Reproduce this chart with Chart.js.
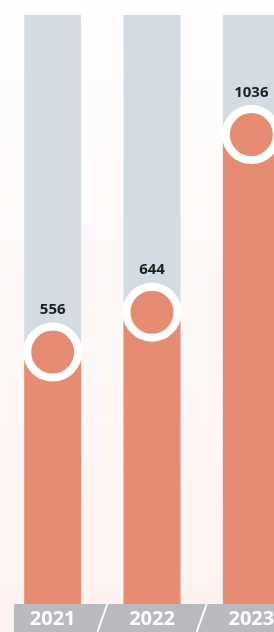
<!DOCTYPE html>
<html>
<head>
<meta charset="utf-8">
<script src="https://cdn.jsdelivr.net/npm/chart.js@4/dist/chart.umd.min.js"></script>
<style>
  html, body {
    margin: 0;
    padding: 0;
    width: 274px;
    height: 632px;
    overflow: hidden;
    background: linear-gradient(to bottom, #fefdfd 0%, #fdf7f5 60%, #fdf2ef 100%);
  }
  canvas { display: block; }
</style>
</head>
<body>
<canvas id="chart" width="301" height="632"></canvas>
<script>
// datos
const years = ["2021", "2022", "2023"];
const values = [556, 644, 1036];
const trackValues = [1300, 1300, 1300];

const ORANGE = "#e68c72";

// fondo de la franja inferior + etiquetas + valores
const decoPlugin = {
    id: "deco",
    afterDraw(chart) {
        const ctx = chart.ctx;
        const x = chart.scales.x;
        const area = chart.chartArea;
        const top = area.bottom;
        const h = chart.height - top;

        ctx.save();
        ctx.fillStyle = "#b9babd";
        ctx.fillRect(14, top, chart.width - 14, h);

        // barras diagonales entre años
        ctx.strokeStyle = "#ffffff";
        ctx.lineWidth = 2;
        for (let i = 0; i < years.length - 1; i++) {
            const b = (x.getPixelForValue(i) + x.getPixelForValue(i + 1)) / 2;
            ctx.beginPath();
            ctx.moveTo(b + 5, top);
            ctx.lineTo(b - 5, top + h);
            ctx.stroke();
        }

        ctx.fillStyle = "#ffffff";
        ctx.font = "bold 20px 'Open Sans'";
        ctx.textAlign = "center";
        ctx.textBaseline = "middle";
        years.forEach((y, i) => {
            ctx.fillText(y, x.getPixelForValue(i), top + h / 2 + 1);
        });

        // valores sobre los círculos
        const meta = chart.getDatasetMeta(0);
        ctx.fillStyle = "#1e1e1e";
        ctx.font = "bold 15px 'Open Sans'";
        meta.data.forEach((pt, i) => {
            ctx.fillText(String(values[i]), pt.x, pt.y - 42);
        });
        ctx.restore();
    }
};

const ctx = document.getElementById("chart").getContext("2d");

new Chart(ctx, {
    type: "bar",
    data: {
        labels: years,
        datasets: [
            {
                type: "line",
                data: values,
                showLine: false,
                pointRadius: 25.5,
                pointBorderWidth: 8,
                pointBorderColor: "#ffffff",
                pointBackgroundColor: ORANGE,
                order: 0,
                clip: false
            },
            {
                data: values,
                backgroundColor: ORANGE,
                grouped: false,
                barPercentage: 1,
                categoryPercentage: 0.573,
                order: 1
            },
            {
                data: trackValues,
                backgroundColor: "#d3dce3",
                grouped: false,
                barPercentage: 1,
                categoryPercentage: 0.573,
                order: 2
            }
        ]
    },
    options: {
        responsive: false,
        animation: false,
        devicePixelRatio: 1,
        layout: {
            autoPadding: false,
            padding: { left: 3, right: 0, top: 15, bottom: 28 }
        },
        plugins: {
            legend: { display: false },
            tooltip: { enabled: false }
        },
        scales: {
            x: { display: false },
            y: { display: false, min: 0, max: 1300 }
        }
    },
    plugins: [decoPlugin]
});
</script>
</body>
</html>
